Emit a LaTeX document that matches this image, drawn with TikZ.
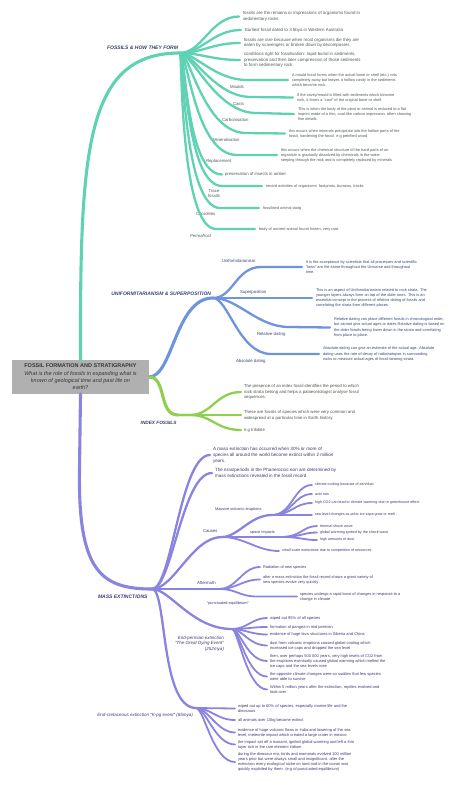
\documentclass[tikz,border=0pt]{standalone}
\usepackage{fontspec}
\setmainfont{Liberation Sans}
\usetikzlibrary{calc}
\definecolor{teal1}{RGB}{96,210,180}
\definecolor{blue1}{RGB}{110,148,220}
\definecolor{green1}{RGB}{142,208,78}
\definecolor{purp1}{RGB}{138,132,224}
\definecolor{ttxt}{RGB}{80,90,92}
\definecolor{btxt}{RGB}{58,71,120}
\definecolor{gtxt}{RGB}{80,86,76}
\definecolor{ptxt}{RGB}{63,58,120}
\definecolor{htxt}{RGB}{55,65,95}
\definecolor{boxgray}{RGB}{176,176,176}
\newcommand{\fs}[2]{\fontsize{#1}{#2}\selectfont}
\begin{document}
\begin{tikzpicture}[x=1pt,y=-1pt,
 every node/.style={inner sep=0pt,outer sep=0pt},
 tmain/.style={draw=teal1,line width=3.1pt,line cap=round},
 tb/.style={draw=teal1,line width=2.3pt,line cap=round},
 bmain/.style={draw=blue1,line width=3.1pt,line cap=round},
 bb/.style={draw=blue1,line width=2.3pt,line cap=round},
 gmain/.style={draw=green1,line width=3.1pt,line cap=round},
 gb/.style={draw=green1,line width=2.3pt,line cap=round},
 pmain/.style={draw=purp1,line width=3.1pt,line cap=round},
 pb/.style={draw=purp1,line width=2.3pt,line cap=round},
 ps/.style={draw=purp1,line width=1.8pt,line cap=round},
 hdr/.style={font=\fs{5}{6}\bfseries\itshape},
 tnA/.style={anchor=west,align=left,text=ttxt,font=\fs{4.4}{5.6}},
 tnB/.style={anchor=west,align=left,text=ttxt,font=\fs{3.9}{5}},
 tlab/.style={anchor=west,align=left,text=ttxt,font=\fs{4.3}{5.5}},
 bn/.style={anchor=west,align=left,text=btxt,font=\fs{3.9}{5.2}},
 blab/.style={anchor=west,text=btxt,font=\fs{4.3}{5.5}},
 gn/.style={anchor=west,align=left,text=gtxt,font=\fs{4.3}{5.8}},
 pnA/.style={anchor=west,align=left,text=ptxt,font=\fs{4.6}{6}},
 pnB/.style={anchor=west,align=left,text=ptxt,font=\fs{3.7}{5}},
 pnC/.style={anchor=west,align=left,text=ptxt,font=\fs{4}{5}},
 plab/.style={anchor=west,align=left,text=ptxt,font=\fs{4.3}{5.5}}]
\fill[white] (0,0) rectangle (474,786);
\useasboundingbox (0,0) rectangle (474,786);

% ---------- root ----------
\node[fill=boxgray,minimum width=137pt,minimum height=34pt,align=center,text={rgb,255:red,55;green,55;blue,55},font=\fs{5.5}{7.4}] (root) at (80.5,377)
 {\textbf{FOSSIL FORMATION AND STRATIGRAPHY}\\\textit{What is the role of fossils in expanding what is}\\\textit{known of geological time and past life on}\\\textit{earth?}};

% ---------- teal : fossils ----------
\coordinate (T) at (180,53);
\draw[tmain] (root.north) .. controls (80,150) and (85,53) .. (T);
\node[hdr,text=htxt,anchor=south east] (hT) at (178,50) {FOSSILS \& HOW THEY FORM};

\node[tnA] (t1) at (243,16.5) {fossils are the remains or impressions of organisms found in\\sedimentary rocks};
\node[tnA] (t2) at (245,30) {Earliest fossil dated to 3.5bya in Western Australia};
\node[tnA] (t3) at (244,43) {fossils are rare because when most organisms die they are\\eaten by scavengers or broken down by decomposers};
\node[tnA] (t4) at (244,60) {conditions right for fossilisation: rapid burial in sediments,\\preservation and then later compression of those sediments\\to form sedimentary rock.};
\draw[tb] (T) .. controls +(22,0) and +(-28,0) .. ($(t1.west)+(-4,0)$);
\draw[tb] (T) .. controls +(22,0) and +(-28,0) .. ($(t2.west)+(-4,0)$);
\draw[tb] (T) .. controls +(22,0) and +(-28,0) .. ($(t3.west)+(-4,0)$);
\draw[tb] (T) .. controls +(20,0) and +(-28,0) .. ($(t4.west)+(-4,0)$);

\node[tnB] (t5) at (292,80) {A mould fossil forms when the actual bone or shell (etc.) rots\\completely away but leaves a hollow cavity in the sediments\\which become rock.};
\node[tlab] (l5) at (230,86.5) {Moulds};
\coordinate (m5) at (247,80);
\draw[tb] (T) .. controls +(15,0) and +(-32,0) .. (m5) -- ($(t5.west)+(-4,0)$);

\node[tnB] (t6) at (297,97.5) {If the cavity/mould is filled with sediments which become\\rock, it forms a ``cast'' of the original bone or shell.};
\node[tlab] (l6) at (233,104) {Casts};
\coordinate (m6) at (251,97);
\draw[tb] (T) .. controls +(13,0) and +(-36,0) .. (m6) -- ($(t6.west)+(-4,0)$);

\node[tnB] (t7) at (298,114) {This is when the body of the plant or animal is reduced to a flat\\imprint made of a thin, coal-like carbon impression, often showing\\fine details.};
\node[tlab] (l7) at (222,120) {Carbonisation};
\coordinate (m7) at (256,113);
\draw[tb] (T) .. controls +(12,0) and +(-40,0) .. (m7) -- ($(t7.west)+(-4,0)$);

\node[tnB] (t8) at (289,133.5) {this occurs when minerals precipitate into the hollow parts of the\\fossil, hardening the fossil. e.g petrified wood};
\node[tlab] (l8) at (213,140) {Mineralisation};
\coordinate (m8) at (246,133);
\draw[tb] (T) .. controls +(10,0) and +(-42,0) .. (m8) -- ($(t8.west)+(-4,0)$);

\node[tnB] (t9) at (281,155) {this occurs when the chemical structure of the hard parts of an\\organism is gradually dissolved by chemicals in the water\\seeping through the rock and is completely replaced by minerals};
\node[tlab,font=\fs{4.3}{5.5}\itshape] (l9) at (206,161) {Replacement};
\coordinate (m9) at (237,155);
\draw[tb] (T) .. controls +(8,0) and +(-42,0) .. (m9) -- ($(t9.west)+(-4,0)$);

\node[tlab] (t10) at (225,174.5) {preservation of insects in amber};
\draw[tb] (T) .. controls +(6,0) and +(-36,0) .. ($(t10.west)+(-3,0)$);

\node[tnB] (t11) at (266,186) {record activities of organisms: footprints, burrows, tracks};
\node[tlab,anchor=center,align=center] (l11) at (214,193.5) {Trace\\fossils};
\coordinate (m11) at (222,186);
\draw[tb] (T) .. controls +(5,0) and +(-36,0) .. (m11) -- ($(t11.west)+(-4,0)$);

\node[tnB] (t12) at (263,208) {fossilised animal dung};
\node[tlab] (l12) at (196,214.5) {Coprolites};
\coordinate (m12) at (220,208);
\draw[tb] (T) .. controls +(3,0) and +(-36,0) .. (m12) -- ($(t12.west)+(-4,0)$);

\node[tnB] (t13) at (259,229) {body of ancient animal found frozen, very rare.};
\node[tlab,font=\fs{4.3}{5.5}\itshape] (l13) at (190,235.5) {Permafrost};
\coordinate (m13) at (216,229);
\draw[tb] (T) .. controls +(2,0) and +(-36,0) .. (m13) -- ($(t13.west)+(-4,0)$);

% ---------- blue : uniformitarianism ----------
\coordinate (B) at (213,298);
\draw[bmain] (root.east) .. controls (173,377) and (175,298) .. (B);
\node[hdr,text=btxt,anchor=south east] (hB) at (211,295.5) {UNIFORMITARIANISM \& SUPERPOSITION};

\node[bn] (b1) at (306,267) {It is the acceptance by scientists that all processes and scientific\\``laws'' are the same throughout the Universe and throughout\\time.};
\node[blab] (lb1) at (222,261) {Uniformitarianism};
\coordinate (n1) at (261,267);
\draw[bb] (B) .. controls +(20,0) and +(-25,0) .. (n1) -- ($(b1.west)+(-4,0)$);

\node[bn] (b2) at (316,298) {This is an aspect of Uniformitarianism related to rock strata. The\\younger layers always form on top of the older ones. This is an\\essential concept in the process of relative dating of fossils and\\correlating the strata from different places.};
\node[blab] (lb2) at (240,292) {Superposition};
\coordinate (n2) at (272,298);
\draw[bb] (B) -- (n2) -- ($(b2.west)+(-4,0)$);

\node[bn] (b3) at (334,327.5) {Relative dating can place different fossils in chronological order,\\but cannot give actual ages or dates Relative dating is based on\\the older fossils being lower down in the strata and correlating\\from place to place.};
\node[blab] (lb3) at (257,334) {Relative dating};
\coordinate (n3) at (289,327);
\draw[bb] (B) .. controls +(25,0) and +(-32,0) .. (n3) -- ($(b3.west)+(-4,0)$);

\node[bn] (b4) at (323,354) {Absolute dating can give an estimate of the actual age. Absolute\\dating uses the rate of decay of radioisotopes in surrounding\\rocks to measure actual ages of fossil-bearing strata.};
\node[blab] (lb4) at (236,361) {Absolute dating};
\coordinate (n4) at (271,354);
\draw[bb] (B) .. controls +(15,0) and +(-32,0) .. (n4) -- ($(b4.west)+(-4,0)$);

% ---------- green : index fossils ----------
\coordinate (G) at (178,415);
\draw[gmain] (root.east) .. controls (167,377) and (158,415) .. (G);
\node[hdr,text=htxt,font=\fs{4.7}{6}\bfseries\itshape,anchor=east] (hG) at (176.5,423) {INDEX FOSSILS};
\node[gn] (g1) at (244,392) {The presence of an index fossil identifies the period to which\\rock strata belong and helps a palaeontologist analyse fossil\\sequences.};
\node[gn] (g2) at (244,415) {These are fossils of species which were very common and\\widespread at a particular time in Earth history.};
\node[gn] (g3) at (244,430) {e.g trilobite};
\draw[gb] (G) -- +(12,0) .. controls +(22,0) and +(-25,0) .. ($(g1.west)+(-3,0)$);
\draw[gb] (G) -- ($(g2.west)+(-3,0)$);
\draw[gb] (G) -- +(12,0) .. controls +(22,0) and +(-25,0) .. ($(g3.west)+(-3,0)$);

% ---------- purple : mass extinctions ----------
\coordinate (M) at (152,589);
\draw[pmain] (root.south) -- (79.5,470) .. controls (78,570) and (100,589) .. (M);
\node[hdr,text=ptxt,anchor=east] (hM) at (147.5,597) {MASS EXTINCTIONS};

\node[pnA] (p1) at (213,455) {A mass extinction has occurred when 30\% or more of\\species all around the world become extinct within 2 million\\years.};
\node[pnA] (p2) at (215,473) {The eras/periods in the Phanerozoic eon are determined by\\mass extinctions revealed in the fossil record};
\draw[pb] (M) .. controls +(20,0) and +(-30,0) .. ($(p1.west)+(-3,0)$);
\draw[pb] (M) .. controls +(20,0) and +(-30,0) .. ($(p2.west)+(-3,0)$);

% causes
\coordinate (CA) at (222,537);
\node[plab] (lCA) at (203,531) {Causes};
\draw[pb] (M) .. controls +(22,0) and +(-30,0) .. (CA);
\coordinate (V) at (272,515);
\node[plab,font=\fs{3.9}{5}] (lV) at (215,509) {Massive volcanic eruptions};
\draw[pb] (CA) .. controls +(16,0) and +(-22,0) .. (V);
\node[pnB] (v1) at (315,485) {climate cooling because of ash/dust};
\node[pnB] (v2) at (315,494) {acid rain};
\node[pnB] (v3) at (315,503) {high CO2 can lead to climate warming due to greenhouse effect};
\node[pnB] (v4) at (315,515) {sea level changes as polar ice-caps grow or melt};
\draw[ps] (V) .. controls +(20,0) and +(-18,0) .. ($(v1.west)+(-3,0)$);
\draw[ps] (V) .. controls +(20,0) and +(-18,0) .. ($(v2.west)+(-3,0)$);
\draw[ps] (V) .. controls +(20,0) and +(-18,0) .. ($(v3.west)+(-3,0)$);
\draw[ps] (V) -- ($(v4.west)+(-3,0)$);
\coordinate (S) at (281,537);
\node[plab,font=\fs{3.9}{5}] (lS) at (250,532) {space impacts};
\draw[pb] (CA) -- (S);
\node[pnB] (s1) at (320,526) {thermal shock wave};
\node[pnB] (s2) at (320,532.5) {global warming ignited by the shock wave};
\node[pnB] (s3) at (320,540) {high amounts of dust};
\draw[ps] (S) .. controls +(20,0) and +(-14,0) .. ($(s1.west)+(-3,0)$);
\draw[ps] (S) .. controls +(20,0) and +(-14,0) .. ($(s2.west)+(-3,0)$);
\draw[ps] (S) .. controls +(20,0) and +(-14,0) .. ($(s3.west)+(-3,0)$);
\node[pnB] (s4) at (282,551) {small scale extinctions due to competition of resources};
\draw[ps] (CA) .. controls +(22,0) and +(-22,0) .. ($(s4.west)+(-3,0)$);

% aftermath
\coordinate (A) at (219,589);
\node[plab] (lA) at (197,583) {Aftermath};
\draw[pb] (M) -- (A);
\node[pnB,font=\fs{3.9}{5}] (a1) at (263,567) {Radiation of new species};
\node[pnB,font=\fs{3.9}{5}] (a2) at (263,579.5) {after a mass extinction the fossil record shows a great variety of\\new species evolve very quickly};
\node[pnB,font=\fs{3.9}{5}] (a3) at (300,596.5) {species undergo a rapid burst of changes in response to a\\change in climate};
\node[plab,font=\fs{3.9}{5}] (lA3) at (207,603.5) {``punctuated equilibrium''};
\draw[ps] (A) .. controls +(18,0) and +(-18,0) .. ($(a1.west)+(-3,0)$);
\draw[ps] (A) .. controls +(18,0) and +(-18,0) .. ($(a2.west)+(-3,0)$);
\coordinate (a3k) at (257,596.5);
\draw[ps] (A) .. controls +(18,0) and +(-18,0) .. (a3k) -- ($(a3.west)+(-3,0)$);

% end-permian
\coordinate (EP) at (232,629);
\draw[pb] (M) .. controls +(18,0) and +(-40,0) .. (EP);
\node[plab,anchor=east,align=right,font=\fs{4.5}{5.6}\itshape] (lEP) at (224,643.5) {End-permian extinction\\``The Great Dying Event''\\(252mya)};
\node[pnC] (e1) at (270,618) {wiped out 95\% of all species};
\node[pnC] (e2) at (270,627) {formation of pangea in mid permian};
\node[pnC] (e3) at (270,634.5) {evidence of huge lava structures in Siberia and China};
\node[pnC] (e4) at (270,645.5) {dust from volcanic eruptions caused global cooling which\\increased ice caps and dropped the sea level};
\node[pnC] (e5) at (270,661) {then, over perhaps 500 000 years, very high levels of CO2 from\\the eruptions eventually caused global warming which melted the\\ice caps and the sea levels rose};
\node[pnC] (e6) at (270,676.5) {the opposite climate changes were so sudden that few species\\were able to survive};
\node[pnC] (e7) at (270,689.5) {Within 5 million years after the extinction, reptiles evolved and\\took over};
\draw[ps] (EP) .. controls +(15,0) and +(-15,0) .. ($(e1.west)+(-3,0)$);
\draw[ps] (EP) .. controls +(15,0) and +(-15,0) .. ($(e2.west)+(-3,0)$);
\draw[ps] (EP) .. controls +(12,0) and +(-16,0) .. ($(e3.west)+(-3,0)$);
\draw[ps] (EP) .. controls +(10,0) and +(-18,0) .. ($(e4.west)+(-3,0)$);
\draw[ps] (EP) .. controls +(8,0) and +(-20,0) .. ($(e5.west)+(-3,0)$);
\draw[ps] (EP) .. controls +(7,0) and +(-20,0) .. ($(e6.west)+(-3,0)$);
\draw[ps] (EP) .. controls +(6,0) and +(-20,0) .. ($(e7.west)+(-3,0)$);

% end-cretaceous
\coordinate (EC) at (196,708);
\draw[pb] (M) .. controls +(15,0) and +(-36,0) .. (EC);
\node[plab,anchor=east,font=\fs{4.5}{5.6}\itshape] (lEC) at (193,715) {End-cretaceous extinction ``K-pg event'' (65mya)};
\node[pnC] (k1) at (238,708.5) {wiped out up to 60\% of species, especially marine life and the\\dinosaurs};
\node[pnC] (k2) at (238,720) {all animals over 10kg became extinct};
\node[pnC] (k3) at (238,732.5) {evidence of huge volcanic flows in India and lowering of the sea\\level, meteorite impact which created a large crater in mexico};
\node[pnC] (k4) at (238,744.5) {the impact set off a tsunami, ignited global warming and left a thin\\layer rich in the rare element iridium};
\node[pnC] (k5) at (238,762) {during the dinosaur era, birds and mammals evolved 100 million\\years prior but were always small and insignificant. after the\\extinction every ecological niche on land and in the ocean was\\quickly exploited by them. (e.g of punctuated equilibrium)};
\draw[ps] (EC) -- ($(k1.west)+(-3,0)$);
\draw[ps] (EC) .. controls +(14,0) and +(-18,0) .. ($(k2.west)+(-3,0)$);
\draw[ps] (EC) .. controls +(12,0) and +(-18,0) .. ($(k3.west)+(-3,0)$);
\draw[ps] (EC) .. controls +(10,0) and +(-20,0) .. ($(k4.west)+(-3,0)$);
\draw[ps] (EC) .. controls +(8,0) and +(-22,0) .. ($(k5.west)+(-3,0)$);
\end{tikzpicture}
\end{document}
